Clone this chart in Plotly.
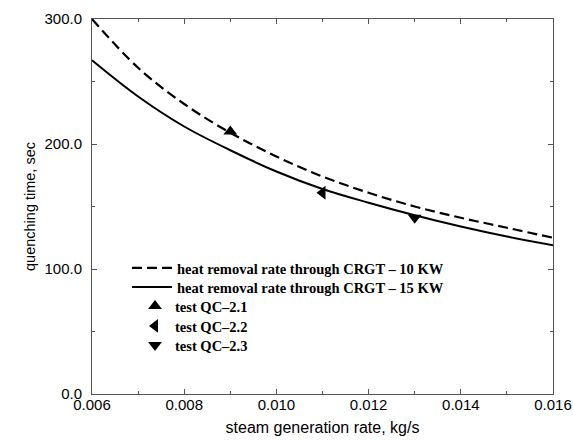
import plotly.graph_objects as go

# Data
rate = [0.006, 0.007, 0.008, 0.009, 0.010, 0.011, 0.012, 0.013, 0.014, 0.015, 0.016]
time_10kw = [300, 261, 232, 209, 190, 174, 161, 150, 141, 133, 125]
time_15kw = [267, 238, 214, 195, 178, 164, 153, 143, 134, 126, 119]

test_names = ["test QC\u20132.1", "test QC\u20132.2", "test QC\u20132.3"]
test_rate = [0.009, 0.011, 0.013]
test_time = [210, 161, 141]
test_symbols = ["triangle-up", "triangle-left", "triangle-down"]

fig = go.Figure()
fig.add_trace(go.Scatter(x=rate, y=time_10kw, mode="lines", line_shape="spline",
                         line=dict(color="black", width=2.2, dash="10px,5px"),
                         name="heat removal rate through CRGT \u2013 10 KW",
                         legend="legend", showlegend=True))
fig.add_trace(go.Scatter(x=rate, y=time_15kw, mode="lines", line_shape="spline",
                         line=dict(color="black", width=2),
                         name="heat removal rate through CRGT \u2013 15 KW",
                         legend="legend2", showlegend=True))
for i, (nm, xv, yv, sym) in enumerate(zip(test_names, test_rate, test_time, test_symbols)):
    fig.add_trace(go.Scatter(x=[xv], y=[yv], mode="markers", name=nm,
                             legend=f"legend{i + 3}", showlegend=True,
                             marker=dict(symbol=sym, size=12, color="black")))

axis_common = dict(showline=True, linecolor="#555", linewidth=1, mirror="allticks",
                   ticks="inside", ticklen=5, tickcolor="#555", showgrid=False, zeroline=False,
                   automargin=False,
                   tickfont=dict(family="Liberation Sans, Arial", size=15, color="black"))

fig.update_xaxes(range=[0.006, 0.016], tick0=0.006, dtick=0.002, tickformat=".3f",
                 minor=dict(dtick=0.001, ticks="inside", ticklen=3, tickcolor="#555"),
                 ticklabelstandoff=-3,
                 title=dict(text="steam generation rate, kg/s", standoff=9,
                            font=dict(family="Liberation Sans, Arial", size=16, color="black")),
                 **axis_common)
fig.update_yaxes(range=[0, 300], tick0=0, dtick=100, tickformat=".1f",
                 minor=dict(dtick=50, ticks="inside", ticklen=3, tickcolor="#555"),
                 ticklabelstandoff=6,
                 title=dict(text="quenching time, sec", standoff=5,
                            font=dict(family="Liberation Sans, Arial", size=14.5, color="black")),
                 **axis_common)

legend_font = dict(family="Liberation Serif, Times New Roman", size=14.5,
                   color="black", weight="bold")
row_y = [0.336, 0.2853, 0.2347, 0.1813, 0.1307]
legends = {}
for i, yy in enumerate(row_y):
    key = "legend" if i == 0 else f"legend{i + 1}"
    legends[key] = dict(x=0.0759 if i < 2 else 0.0933, y=yy, visible=True,
                        xanchor="left", yanchor="middle",
                        bgcolor="rgba(0,0,0,0)", itemwidth=40 if i < 2 else 30,
                        font=legend_font)

fig.update_layout(
    width=573, height=441,
    margin=dict(l=92, r=20, t=19, b=47, autoexpand=False),
    plot_bgcolor="white", paper_bgcolor="white",
    showlegend=True,
    font=dict(family="Liberation Serif", color="black"),
    **legends,
)

fig.write_html("out.html", config={"displayModeBar": False},
               post_script="document.body.style.margin='0px';")
